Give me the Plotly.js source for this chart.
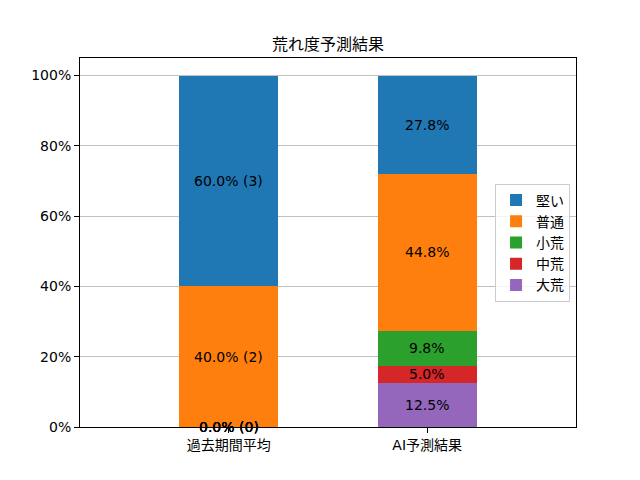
<!DOCTYPE html>
<html>
<head>
<meta charset="utf-8">
<script src="https://cdn.plot.ly/plotly-3.0.1.min.js"></script>
<style>html,body{margin:0;padding:0;background:#fff}#chart{width:640px;height:480px}</style>
</head>
<body>
<div id="chart"></div>
<script>
// Data
const categories = ['過去期間平均', 'AI予測結果'];
const seriesNames = ['大荒', '中荒', '小荒', '普通', '堅い']; // bottom to top
const seriesColors = ['#9467bd', '#d62728', '#2ca02c', '#ff7f0e', '#1f77b4'];
const daiare = [0.0, 12.5];
const chuare = [0.0, 5.0];
const shoare = [0.0, 9.8];
const futsu = [40.0, 44.8];
const katai = [60.0, 27.8];
const pastCounts = { '大荒': 0, '中荒': 0, '小荒': 0, '普通': 2, '堅い': 3 };
const yTicks = [0, 20, 40, 60, 80, 100];
const yTickLabels = ['0%', '20%', '40%', '60%', '80%', '100%'];

const seriesValues = [daiare, chuare, shoare, futsu, katai];
const font = 'DejaVu Sans, Noto Sans CJK JP, sans-serif';

const traces = seriesNames.map((name, i) => ({
  type: 'bar',
  name: name,
  x: [0, 1],
  y: seriesValues[i],
  width: 0.5,
  marker: { color: seriesColors[i], line: { width: 0 } },
  hoverinfo: 'none'
}));

const annotations = [];
const cum = [0, 0];
seriesValues.forEach((vals, i) => {
  vals.forEach((v, c) => {
    const mid = cum[c] + v / 2;
    cum[c] += v;
    const txt = c === 0 ? v.toFixed(1) + '% (' + pastCounts[seriesNames[i]] + ')' : v.toFixed(1) + '%';
    annotations.push({
      x: c, y: mid, xref: 'x', yref: 'y', text: txt, showarrow: false,
      font: { family: font, size: 14, color: '#000' }, xanchor: 'center', yanchor: 'middle'
    });
  });
});

const layout = {
  width: 640, height: 480,
  margin: { l: 80, r: 64, t: 58, b: 53, pad: 0 },
  paper_bgcolor: '#fff', plot_bgcolor: '#fff',
  barmode: 'stack',
  title: { text: '荒れ度予測結果', font: { family: font, size: 16, color: '#000' }, x: 0.5, xref: 'paper', y: 1, yref: 'paper', yanchor: 'bottom', pad: { b: 8 } },
  xaxis: {
    range: [-0.75, 1.75], tickvals: [0, 1], ticktext: categories,
    showgrid: false, zeroline: false, showline: true, mirror: true, linecolor: '#000', linewidth: 1,
    ticks: 'outside', ticklen: 5, tickcolor: '#000', tickwidth: 1,
    tickfont: { family: font, size: 14, color: '#000' }
  },
  yaxis: {
    range: [0, 105], tickmode: 'array', tickvals: yTicks, ticktext: yTickLabels,
    showgrid: true, gridcolor: '#b0b0b0', gridwidth: 0.8, zeroline: false,
    showline: true, mirror: true, linecolor: '#000', linewidth: 1,
    ticks: 'outside', ticklen: 5, tickcolor: '#000', tickwidth: 1,
    tickfont: { family: font, size: 14, color: '#000' }
  },
  legend: {
    x: 0.988, xanchor: 'right', y: 0.5, yanchor: 'middle', traceorder: 'reversed',
    bordercolor: '#cccccc', borderwidth: 1, bgcolor: 'rgba(255,255,255,0.8)',
    font: { family: font, size: 14, color: '#000' }, itemwidth: 30, tracegroupgap: 0
  },
  annotations: annotations,
  showlegend: true
};

Plotly.newPlot('chart', traces, layout, { displayModeBar: false, staticPlot: true });
</script>
</body>
</html>
